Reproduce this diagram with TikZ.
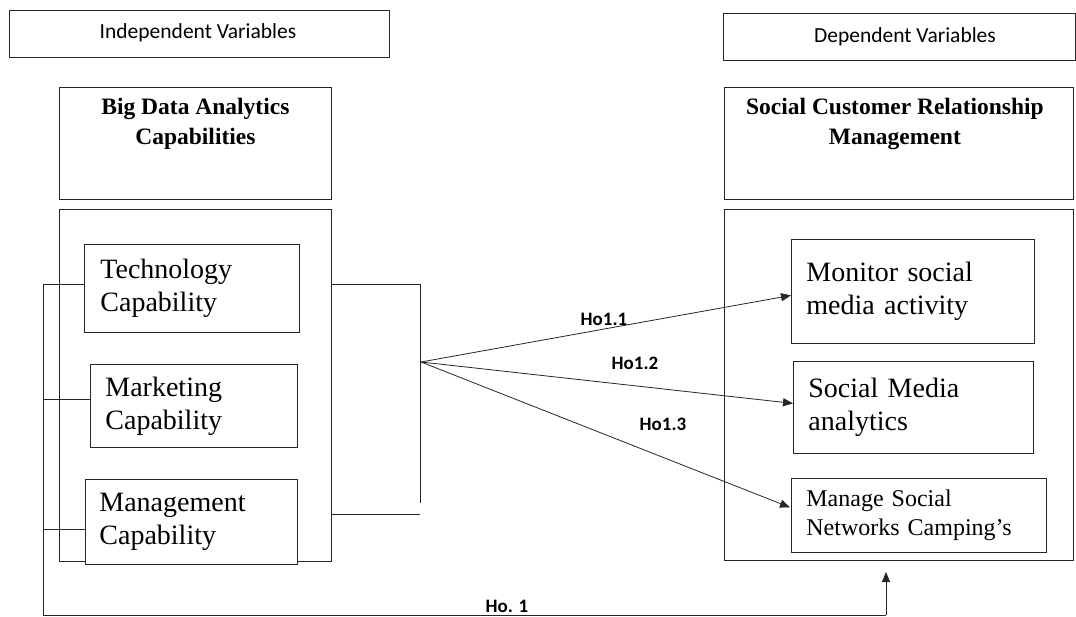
\documentclass[tikz,border=0pt]{standalone}
\usepackage{fontspec}
\setmainfont{Liberation Serif}
\newfontfamily\calib{Carlito}
\usetikzlibrary{arrows.meta}
\tikzset{
  ln/.style={draw=black!85, line width=0.8pt},
  box/.style={ln, rectangle, inner sep=0pt, anchor=north west},
  itembox/.style={box, inner xsep=15pt, align=left, font=\fontsize{28}{33}\selectfont},
  headtxt/.style={anchor=north, align=center, inner sep=0pt, font=\fontsize{23.5}{30}\selectfont\bfseries},
  vartxt/.style={inner sep=0pt, font=\calib\fontsize{21.5}{24}\selectfont},
  hlab/.style={inner sep=0pt, font=\calib\bfseries\fontsize{19}{21}\selectfont},
  arr/.style={ln, -{Triangle[length=10pt,width=8pt]}}
}
\begin{document}
\begin{tikzpicture}[x=1pt,y=-1pt]
\useasboundingbox (0,0) rectangle (1076,617);
% top variable boxes
\node[box, minimum width=380pt, minimum height=47pt] (iv) at (9,10) {};
\node[vartxt] (ivt) at (198,33) {Independent Variables};
\node[box, minimum width=352pt, minimum height=47pt] (dv) at (723,13) {};
\node[vartxt] (dvt) at (905,37) {Dependent Variables};
% heading boxes
\node[box, minimum width=272pt, minimum height=112pt] (bda) at (59,87) {};
\node[headtxt] (bdat) at ([yshift=-11pt]bda.north) {Big Data Analytics\\Capabilities};
\node[box, minimum width=349pt, minimum height=112pt] (scrm) at (724,87) {};
\node[headtxt] (scrmt) at ([yshift=-11pt,xshift=-4pt]scrm.north) {Social Customer Relationship\\Management};
% outer boxes
\node[box, minimum width=272pt, minimum height=352pt] (lout) at (59,209) {};
\node[box, minimum width=349pt, minimum height=351pt] (rout) at (724,209) {};
% left items
\node[itembox, fill=white, minimum width=213pt, minimum height=88pt, text width=183pt, inner xsep=16pt] (tech) at (84,244) {Technology\\Capability};
\node[itembox, fill=white, minimum width=207pt, minimum height=83pt, text width=177pt] (mkt) at (90,364) {Marketing\\Capability};
\node[itembox, fill=white, minimum width=212pt, minimum height=85pt, text width=184pt, inner xsep=14pt] (mgt) at (85,479) {Management\\Capability};
% right items
\node[itembox, minimum width=243pt, minimum height=104pt, text width=213pt] (mon) at (791,239) {Monitor social\\media activity\\[4pt]};
\node[itembox, minimum width=240pt, minimum height=92pt, text width=210pt] (sma) at (793,361) {Social Media\\analytics\\[-8pt]};
\node[itembox, minimum width=255pt, minimum height=74pt, text width=225pt, font=\fontsize{24}{29}\selectfont] (msn) at (791,478) {Manage Social\\Networks Camping’s};
% bracket on the right of the left group
\coordinate (bt) at (420,284);
\coordinate (bb) at (420,503);
\coordinate (bl) at (420,514);
\coordinate (fan) at (421,362);
\draw[ln] (lout.east |- bt) -- (bt) -- (bb);
\draw[ln] (lout.east |- bl) -- (bl);
% fan arrows
\draw[arr] (fan) -- ([yshift=-4pt]mon.west);
\draw[arr] (fan) -- ([yshift=4pt]sma.west);
\draw[arr] (fan) -- ([yshift=8pt,xshift=-1pt]msn.west);
\node[hlab] (h11) at (604,319) {Ho1.1};
\node[hlab] (h12) at (635,363) {Ho1.2};
\node[hlab] (h13) at (663,424) {Ho1.3};
% left line and overall hypothesis
\coordinate (lt) at (43,284);
\coordinate (lm) at (43,399);
\coordinate (lg) at (43,529);
\coordinate (lb) at (43,615);
\coordinate (rb) at (886,615);
\coordinate (rt) at (886,572);
\draw[ln] (tech.west |- lt) -- (lt) -- (lb) -- (rb);
\draw[arr] (rb) -- (rt);
\draw[ln] (mkt.west |- lm) -- (lm);
\draw[ln] (mgt.west |- lg) -- (lg);
\node[hlab] (h1) at (507,606) {Ho. 1};
\end{tikzpicture}
\end{document}
